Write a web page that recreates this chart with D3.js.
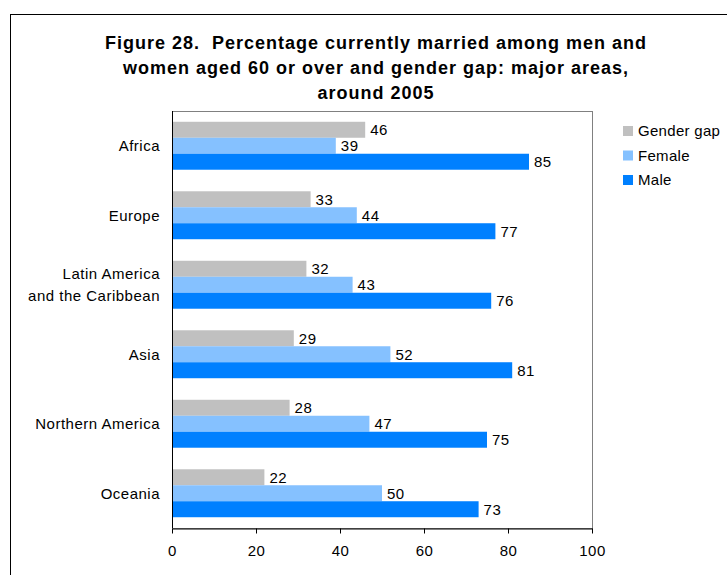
<!DOCTYPE html>
<html>
<head>
<meta charset="utf-8">
<script src="https://cdn.jsdelivr.net/npm/d3@7"></script>
<style>
  body { margin: 0; background: #fff; }
  svg { font-family: Arial, "Liberation Sans", sans-serif; }
</style>
</head>
<body>
<div id="chart"></div>
<script>
const areas = ['Africa', 'Europe', 'Latin America|and the Caribbean', 'Asia', 'Northern America', 'Oceania'];
const genderGap = [46, 33, 32, 29, 28, 22];
const female = [39, 44, 43, 52, 47, 50];
const male = [85, 77, 76, 81, 75, 73];
const xTicks = [0, 20, 40, 60, 80, 100];
const seriesNames = ['Gender gap', 'Female', 'Male'];
const seriesColors = ['#c0c0c0', '#85c1ff', '#0080ff'];
const titleLines = [
    'Figure 28.  Percentage currently married among men and',
    'women aged 60 or over and gender gap: major areas,',
    'around 2005'
];

const W = 727, H = 575;
const margin = { left: 172, right: 135, top: 111, bottom: 47 };
const fontSize = 15;
const spacing = '0.5px';

const svg = d3.select('#chart').append('svg')
    .attr('width', W)
    .attr('height', H);

// outer frame
svg.append('rect')
    .attr('x', 10.5).attr('y', 14.5)
    .attr('width', 740).attr('height', 600)
    .attr('fill', 'none')
    .attr('stroke', '#000')
    .attr('stroke-width', 1);

svg.append('g')
    .selectAll('text')
    .data(titleLines)
    .enter()
    .append('text')
        .attr('x', 376)
        .attr('y', (d, i) => 49 + i * 25)
        .attr('text-anchor', 'middle')
        .attr('font-size', 18)
        .attr('font-weight', 'bold')
        .attr('letter-spacing', '1px')
        .style('white-space', 'pre')
        .attr('fill', '#000')
        .text(d => d);

const xScale = d3.scaleLinear([0, 100], [margin.left, W - margin.right]);
const yScale = d3.scaleBand(areas, [margin.top, H - margin.bottom]).paddingInner(0.31).paddingOuter(0.155);
const subScale = d3.scaleBand([0, 1, 2], [0, yScale.bandwidth()]);

// plot area border (grey top/right)
svg.append('rect')
    .attr('x', xScale(0) + 0.5)
    .attr('y', margin.top + 0.5)
    .attr('width', xScale(100) - xScale(0))
    .attr('height', H - margin.bottom - margin.top)
    .attr('fill', 'none')
    .attr('stroke', '#808080');

const rows = areas.map((a, i) => ({ area: a, values: [genderGap[i], female[i], male[i]] }));

const groups = svg.append('g')
    .selectAll('g')
    .data(rows)
    .enter()
    .append('g')
        .attr('transform', d => `translate(0, ${yScale(d.area)})`);

groups.selectAll('rect')
    .data(d => d.values)
    .enter()
    .append('rect')
        .attr('x', xScale(0) + 1)
        .attr('y', (d, i) => subScale(i))
        .attr('width', d => xScale(d) - xScale(0) - 1)
        .attr('height', subScale.bandwidth())
        .attr('fill', (d, i) => seriesColors[i]);

groups.selectAll('.val')
    .data(d => d.values)
    .enter()
    .append('text')
        .attr('class', 'val')
        .attr('x', d => xScale(d) + 5)
        .attr('y', (d, i) => subScale(i) + subScale.bandwidth() / 2)
        .attr('dy', '0.36em')
        .attr('font-size', fontSize)
        .attr('letter-spacing', spacing)
        .attr('fill', '#000')
        .text(d => d);

// category labels
const catLabels = svg.append('g')
    .selectAll('text')
    .data(areas)
    .enter()
    .append('text')
        .attr('x', 160)
        .attr('y', d => yScale(d) + yScale.bandwidth() / 2)
        .attr('text-anchor', 'end')
        .attr('font-size', fontSize)
        .attr('letter-spacing', spacing)
        .attr('fill', '#000');

catLabels.each(function (d) {
    const parts = d.split('|');
    const t = d3.select(this);
    parts.forEach((p, j) => {
        t.append('tspan')
            .attr('x', 160)
            .attr('dy', j === 0 ? `${0.36 - (parts.length - 1) * 0.73}em` : '1.47em')
            .text(p);
    });
});

// axes
svg.append('g')
    .attr('transform', `translate(0, ${H - margin.bottom + 0.5})`)
    .call(d3.axisBottom(xScale).tickValues(xTicks).tickSize(5).tickPadding(12).tickSizeOuter(0))
    .call(g => g.selectAll('text')
        .attr('font-size', fontSize)
        .attr('letter-spacing', spacing)
        .attr('font-family', 'Arial, "Liberation Sans", sans-serif')
        .attr('fill', '#000'))
    .call(g => g.selectAll('line, path').attr('stroke', '#000'));

svg.append('line')
    .attr('x1', xScale(0) + 0.5).attr('x2', xScale(0) + 0.5)
    .attr('y1', margin.top).attr('y2', H - margin.bottom)
    .attr('stroke', '#000');

// legend
const legend = svg.append('g')
    .selectAll('g')
    .data(seriesNames)
    .enter()
    .append('g')
        .attr('transform', (d, i) => `translate(623, ${131 + i * 24.5})`);

legend.append('rect')
    .attr('x', 0).attr('y', -5)
    .attr('width', 10).attr('height', 10)
    .attr('fill', (d, i) => seriesColors[i]);

legend.append('text')
    .attr('x', 15)
    .attr('y', 0)
    .attr('dy', '0.36em')
    .attr('font-size', fontSize)
    .attr('letter-spacing', '0.3px')
    .attr('fill', '#000')
    .text(d => d);
</script>
</body>
</html>
